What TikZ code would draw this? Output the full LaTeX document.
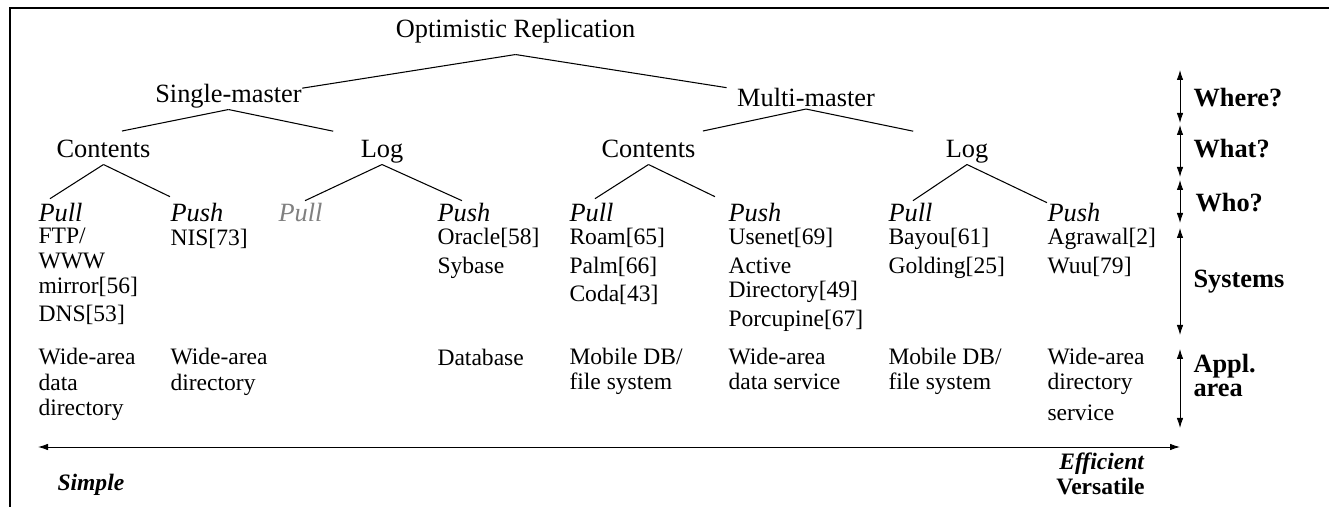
\documentclass[tikz,border=0pt]{standalone}
\usepackage{fontspec}
\setmainfont{Liberation Serif}
\usetikzlibrary{arrows.meta}

\newcommand{\bigsz}{\fontsize{15}{14}\selectfont}
\newcommand{\smallsz}{\fontsize{13.4}{14}\selectfont}

\tikzset{
	treenode/.style={inner sep=0pt, anchor=base, font=\bigsz, text depth=0.13cm},
	leaf/.style={inner sep=0pt, anchor=base west, font=\bigsz\itshape},
	entry/.style={inner sep=0pt, anchor=north west, align=left, font=\smallsz, execute at begin node=\strut},
	levelname/.style={inner sep=0pt, anchor=base west, align=left, font=\fontsize{15}{13.7}\selectfont\bfseries},
	span/.style={line width=0.5pt, {Latex[length=0.2cm,width=0.13cm]}-{Latex[length=0.2cm,width=0.13cm]}},
}

\begin{document}
\begin{tikzpicture}[line width=0.6pt]
	\useasboundingbox (0,0) rectangle (26.58,-10.14);
	\draw [line width=0.8pt] (0.2,-10.14) -- (0.2,-0.16) -- (26.58,-0.16);

	\node[treenode] (root) at (10.31,-0.75) {Optimistic Replication};
	\node[treenode] (sm) at (4.57,-2.05) {Single-master};
	\node[treenode] (mm) at (16.12,-2.13) {Multi-master};
	\node[treenode] (c1) at (2.07,-3.15) {Contents};
	\node[treenode] (l1) at (7.64,-3.15) {Log};
	\node[treenode] (c2) at (12.97,-3.15) {Contents};
	\node[treenode] (l2) at (19.34,-3.15) {Log};

	\foreach \name/\x/\word in {p1/0.76/Pull, p2/3.40/Push, p4/8.74/Push, p5/11.38/Pull,
		p6/14.56/Push, p7/17.76/Pull, p8/20.94/Push}
		\node[leaf] (\name) at (\x,-4.43) {\word};
	\node[leaf, text=gray] (p3) at (5.56,-4.43) {Pull};

	\draw ([yshift=-0.2cm]root.south) -- ([yshift=-0.09cm]sm.north east);
	\draw ([yshift=-0.2cm]root.south) -- ([xshift=-0.2cm]mm.north west);
	\draw (sm.south) -- ([shift={(0.37,0.17)}]c1.north);
	\draw (sm.south) -- ([shift={(-0.54,0.17)}]l1.north west);
	\draw ([yshift=0.09cm]mm.south) -- ([shift={(0.14,0.17)}]c2.north east);
	\draw ([yshift=0.09cm]mm.south) -- ([shift={(-0.64,0.17)}]l2.north west);
	\draw (c1.south) -- ([shift={(0.24,0.08)}]p1.north west);
	\draw (c1.south) -- ([yshift=0.12cm]p2.north west);
	\draw (l1.south) -- ([shift={(0.54,0.04)}]p3.north west);
	\draw (l1.south) -- ([shift={(0.5,0.04)}]p4.north west);
	\draw (c2.south) -- ([shift={(0.52,0.08)}]p5.north west);
	\draw (c2.south) -- ([shift={(-0.26,0.12)}]p6.north west);
	\draw (l2.south) -- ([shift={(0.5,0.04)}]p7.north west);
	\draw (l2.south) -- (p8.north west);

	\node[entry] (s1) at (0.76,-4.555) {FTP/\\WWW\\mirror[56]\\[2.2pt]DNS[53]};
	\node[entry] (s2) at (3.40,-4.555) {NIS[73]};
	\node[entry] (s4) at (8.74,-4.555) {Oracle[58]\\[2.2pt]Sybase};
	\node[entry] (s5) at (11.38,-4.555) {Roam[65]\\[2.2pt]Palm[66]\\[2.2pt]Coda[43]};
	\node[entry] (s6) at (14.56,-4.555) {Usenet[69]\\[2.2pt]Active\\Directory[49]\\[2.2pt]Porcupine[67]};
	\node[entry] (s7) at (17.76,-4.555) {Bayou[61]\\[2.2pt]Golding[25]};
	\node[entry] (s8) at (20.94,-4.555) {Agrawal[2]\\[2.2pt]Wuu[79]};

	\node[entry] (a1) at (0.76,-6.955) {Wide-area\\[1pt]data\\directory};
	\node[entry] (a2) at (3.40,-6.955) {Wide-area\\[1pt]directory};
	\node[entry] (a4) at (8.74,-6.955) {Database};
	\node[entry] (a5) at (11.38,-6.955) {Mobile DB/\\file system};
	\node[entry] (a6) at (14.56,-6.955) {Wide-area\\data service};
	\node[entry] (a7) at (17.76,-6.955) {Mobile DB/\\file system};
	\node[entry] (a8) at (20.94,-6.955) {Wide-area\\directory\\[4pt]service};

	\node[levelname] (where) at (23.86,-2.14) {Where?};
	\node[levelname] (what) at (23.86,-3.16) {What?};
	\node[levelname] (who) at (23.90,-4.24) {Who?};
	\node[levelname] (sys) at (23.86,-5.76) {Systems};
	\node[levelname] (appl) at (23.86,-7.94) {Appl.\\area};

	\foreach \i/\top/\bot in {1/1.40/2.46, 2/2.50/3.54, 3/3.60/4.46, 4/4.56/6.70, 5/6.98/8.56} {
		\coordinate (t\i) at (23.6,-\top);
		\coordinate (b\i) at (23.6,-\bot);
		\draw[span] (t\i) -- (b\i);
	}
	\coordinate (lo) at (0.76,-8.94);
	\coordinate (hi) at (23.6,-8.94);
	\draw[span] (lo) -- (hi);

	\node[inner sep=0pt, anchor=base west, font=\smallsz\bfseries\itshape] (simple) at (1.14,-9.80) {Simple};
	\node[inner sep=0pt, anchor=base east, align=right, font=\fontsize{13.4}{13.7}\selectfont\bfseries] (eff) at (22.90,-9.88) {\textit{Efficient}\\Versatile};
\end{tikzpicture}
\end{document}
